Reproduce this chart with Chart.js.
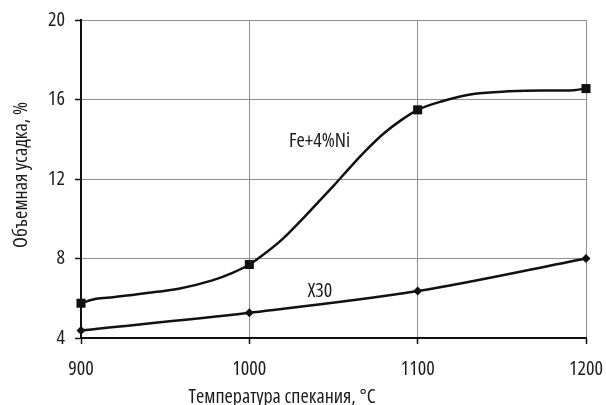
<!DOCTYPE html>
<html>
<head>
<meta charset="utf-8">
<script src="https://cdn.jsdelivr.net/npm/chart.js@4/dist/chart.umd.min.js"></script>
<style>
  html, body { margin: 0; padding: 0; background: #fff; }
  #wrap { width: 606px; height: 405px; }
</style>
</head>
<body>
<div id="wrap"><canvas id="c"></canvas></div>
<script>
// Sintering temperature, °C
const temperatures = [900, 1000, 1100, 1200];
// Volume shrinkage at the measured temperatures, %
const feNiMeasured = [5.75, 7.7, 15.48, 16.55];
const x30Measured = [4.38, 5.27, 6.36, 8.0];
// Smoothed Fe+4%Ni trend
const feNiCurveT = [900, 909, 919, 938, 958, 978, 990, 1000, 1010, 1020, 1030, 1040, 1050, 1060, 1070, 1080, 1090, 1100, 1114, 1134, 1154, 1174, 1190, 1200];
const feNiCurveV = [5.75, 5.97, 6.05, 6.25, 6.48, 6.9, 7.28, 7.7, 8.3, 9.0, 9.85, 10.75, 11.65, 12.6, 13.5, 14.3, 14.95, 15.48, 15.9, 16.29, 16.41, 16.45, 16.45, 16.55];
// Axis ticks
const xTicks = [900, 1000, 1100, 1200];
const yTicks = [4, 8, 12, 16, 20];
const seriesNames = ['Fe+4%Ni', 'X30'];
const xTitle = 'Температура спекания, °C';
const yTitle = 'Объемная усадка, %';

// condensed face of Open Sans; the stretch keyword rides in the weight slot of the font string
const FONT_FAMILY = "'Open Sans', 'Roboto Condensed', sans-serif";
const FONT_STRETCH = 'condensed';
const FONT_SIZE = 20;
const FONT_CSS = FONT_STRETCH + ' ' + FONT_SIZE + 'px ' + FONT_FAMILY;
const INK = '#1c1c1c';
const GRID = '#8f8f8f';

const toPts = (xs, ys) => xs.map((t, i) => ({ x: t, y: ys[i] }));

// Series name labels placed in data coordinates
const seriesLabelAt = [
  { name: seriesNames[0], x: 1023.5, y: 13.9 },
  { name: seriesNames[1], x: 1034.5, y: 6.35 }
];

const textPlugin = {
  id: 'chartTexts',
  afterDraw(chart) {
    const { ctx, chartArea, scales: { x, y } } = chart;
    ctx.save();
    ctx.fillStyle = INK;
    ctx.font = FONT_CSS;
    ctx.textBaseline = 'middle';
    ctx.textAlign = 'left';
    seriesLabelAt.forEach(l => {
      ctx.fillText(l.name, x.getPixelForValue(l.x), y.getPixelForValue(l.y));
    });
    // axis titles
    ctx.textAlign = 'center';
    ctx.fillText(xTitle, 282, 397);
    ctx.translate(21, (chartArea.top + chartArea.bottom) / 2 - 4);
    ctx.rotate(-Math.PI / 2);
    ctx.fillText(yTitle, 0, 0);
    ctx.restore();
  }
};

const tickFont = { family: FONT_FAMILY, size: FONT_SIZE, weight: FONT_STRETCH };

new Chart(document.getElementById('c'), {
  type: 'scatter',
  data: {
    datasets: [
      {
        label: seriesNames[0] + ' curve',
        data: toPts(feNiCurveT, feNiCurveV),
        showLine: true,
        borderColor: '#111',
        borderWidth: 2.5,
        pointRadius: 0,
        cubicInterpolationMode: 'monotone',
        clip: false
      },
      {
        label: seriesNames[0],
        data: toPts(temperatures, feNiMeasured),
        showLine: false,
        pointStyle: 'rect',
        pointRadius: 6.4,
        backgroundColor: '#111',
        borderColor: '#111',
        borderWidth: 0,
        clip: false
      },
      {
        label: seriesNames[1],
        data: toPts(temperatures, x30Measured),
        showLine: true,
        borderColor: '#111',
        borderWidth: 2.5,
        cubicInterpolationMode: 'monotone',
        pointStyle: 'rectRot',
        pointRadius: 4.5,
        pointBackgroundColor: '#111',
        pointBorderColor: '#111',
        pointBorderWidth: 0,
        clip: false
      }
    ]
  },
  options: {
    responsive: true,
    maintainAspectRatio: false,
    animation: false,
    devicePixelRatio: 1,
    layout: { padding: { left: 0, right: 20, top: 20, bottom: 0 } },
    plugins: {
      legend: { display: false },
      tooltip: { enabled: false }
    },
    scales: {
      x: {
        type: 'linear',
        min: xTicks[0],
        max: xTicks[xTicks.length - 1],
        afterBuildTicks: s => { s.ticks = xTicks.map(v => ({ value: v })); },
        afterFit: s => {
          s.height = 67;
          s.paddingLeft = 0;
          s.paddingRight = 0;
        },
        ticks: {
          color: INK,
          font: tickFont,
          padding: 13,
          maxRotation: 0,
          callback: v => String(v)
        },
        grid: {
          color: GRID,
          lineWidth: 1,
          tickColor: '#111',
          tickLength: 6,
          tickWidth: 1.5
        },
        border: { color: '#111', width: 2 }
      },
      y: {
        type: 'linear',
        min: yTicks[0],
        max: yTicks[yTicks.length - 1],
        afterBuildTicks: s => { s.ticks = yTicks.map(v => ({ value: v })); },
        afterFit: s => {
          s.width = 81;
          s.paddingTop = 0;
          s.paddingBottom = 0;
        },
        ticks: {
          color: INK,
          font: tickFont,
          padding: 10,
          callback: v => String(v)
        },
        grid: {
          color: GRID,
          lineWidth: 1,
          tickColor: '#111',
          tickLength: 6,
          tickWidth: 1.5
        },
        border: { color: '#111', width: 2 }
      }
    }
  },
  plugins: [textPlugin]
});
</script>
</body>
</html>
